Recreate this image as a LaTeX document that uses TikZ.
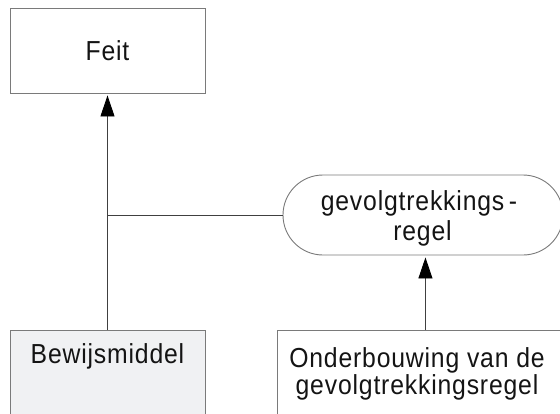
\documentclass[tikz,border=0pt]{standalone}
\usepackage{fontspec}
\setmainfont{Liberation Sans}[FakeStretch=0.9, LetterSpace=3]
\usetikzlibrary{arrows.meta,shapes.misc}
\definecolor{linec}{HTML}{404040}
\definecolor{boxc}{HTML}{7A7A7A}
\definecolor{fillc}{HTML}{F0F1F3}
\definecolor{txtc}{HTML}{141414}
\tikzset{
  box/.style={draw=boxc, line width=0.9pt, rectangle, inner sep=0pt},
  txt/.style={text=txtc, inner sep=0pt},
  conn/.style={draw=linec, line width=0.9pt},
  arr/.style={conn, -{Triangle[length=21pt, width=14pt, color=black]}, shorten >=2pt},
}
\begin{document}
\begin{tikzpicture}[x=1pt, y=-1pt, font=\fontsize{27.5}{30}\selectfont]
\useasboundingbox (0,0) rectangle (560,413);
\clip (0,0) rectangle (560,413);
% boxes
\node[box, minimum width=195pt, minimum height=85pt] (feit) at (107.5,50.5) {};
\node[txt, anchor=base] (feitt) at (107.5,60) {Feit};
\node[box, fill=fillc, minimum width=195pt, minimum height=100pt, anchor=north] (bew) at (107.5,330) {};
\node[txt, anchor=base] (bewt) at (107.5,363) {Bewijsmiddel};
\node[box, minimum width=296pt, minimum height=100pt, anchor=north west] (ond) at (277,330) {};
\node[txt, anchor=base] (ondt1) at (417,367) {Onderbouwing van de};
\node[txt, anchor=base] (ondt2) at (417,394) {gevolgtrekkingsregel};
\node[box, rounded rectangle, minimum width=280pt, minimum height=80pt] (gev) at (423,215) {};
\node[txt, anchor=base] (gevt1) at (419,210) {gevolgtrekkings\,-};
\node[txt, anchor=base] (gevt2) at (422.5,240) {regel};
% connectors
\draw[arr] (bew.north) -- (feit.south);
\coordinate (j) at (bew.north |- gev.west);
\draw[conn] (j) -- (gev.west);
\draw[arr] (ond.north) -- (ond.north |- gev.south);
\end{tikzpicture}
\end{document}
